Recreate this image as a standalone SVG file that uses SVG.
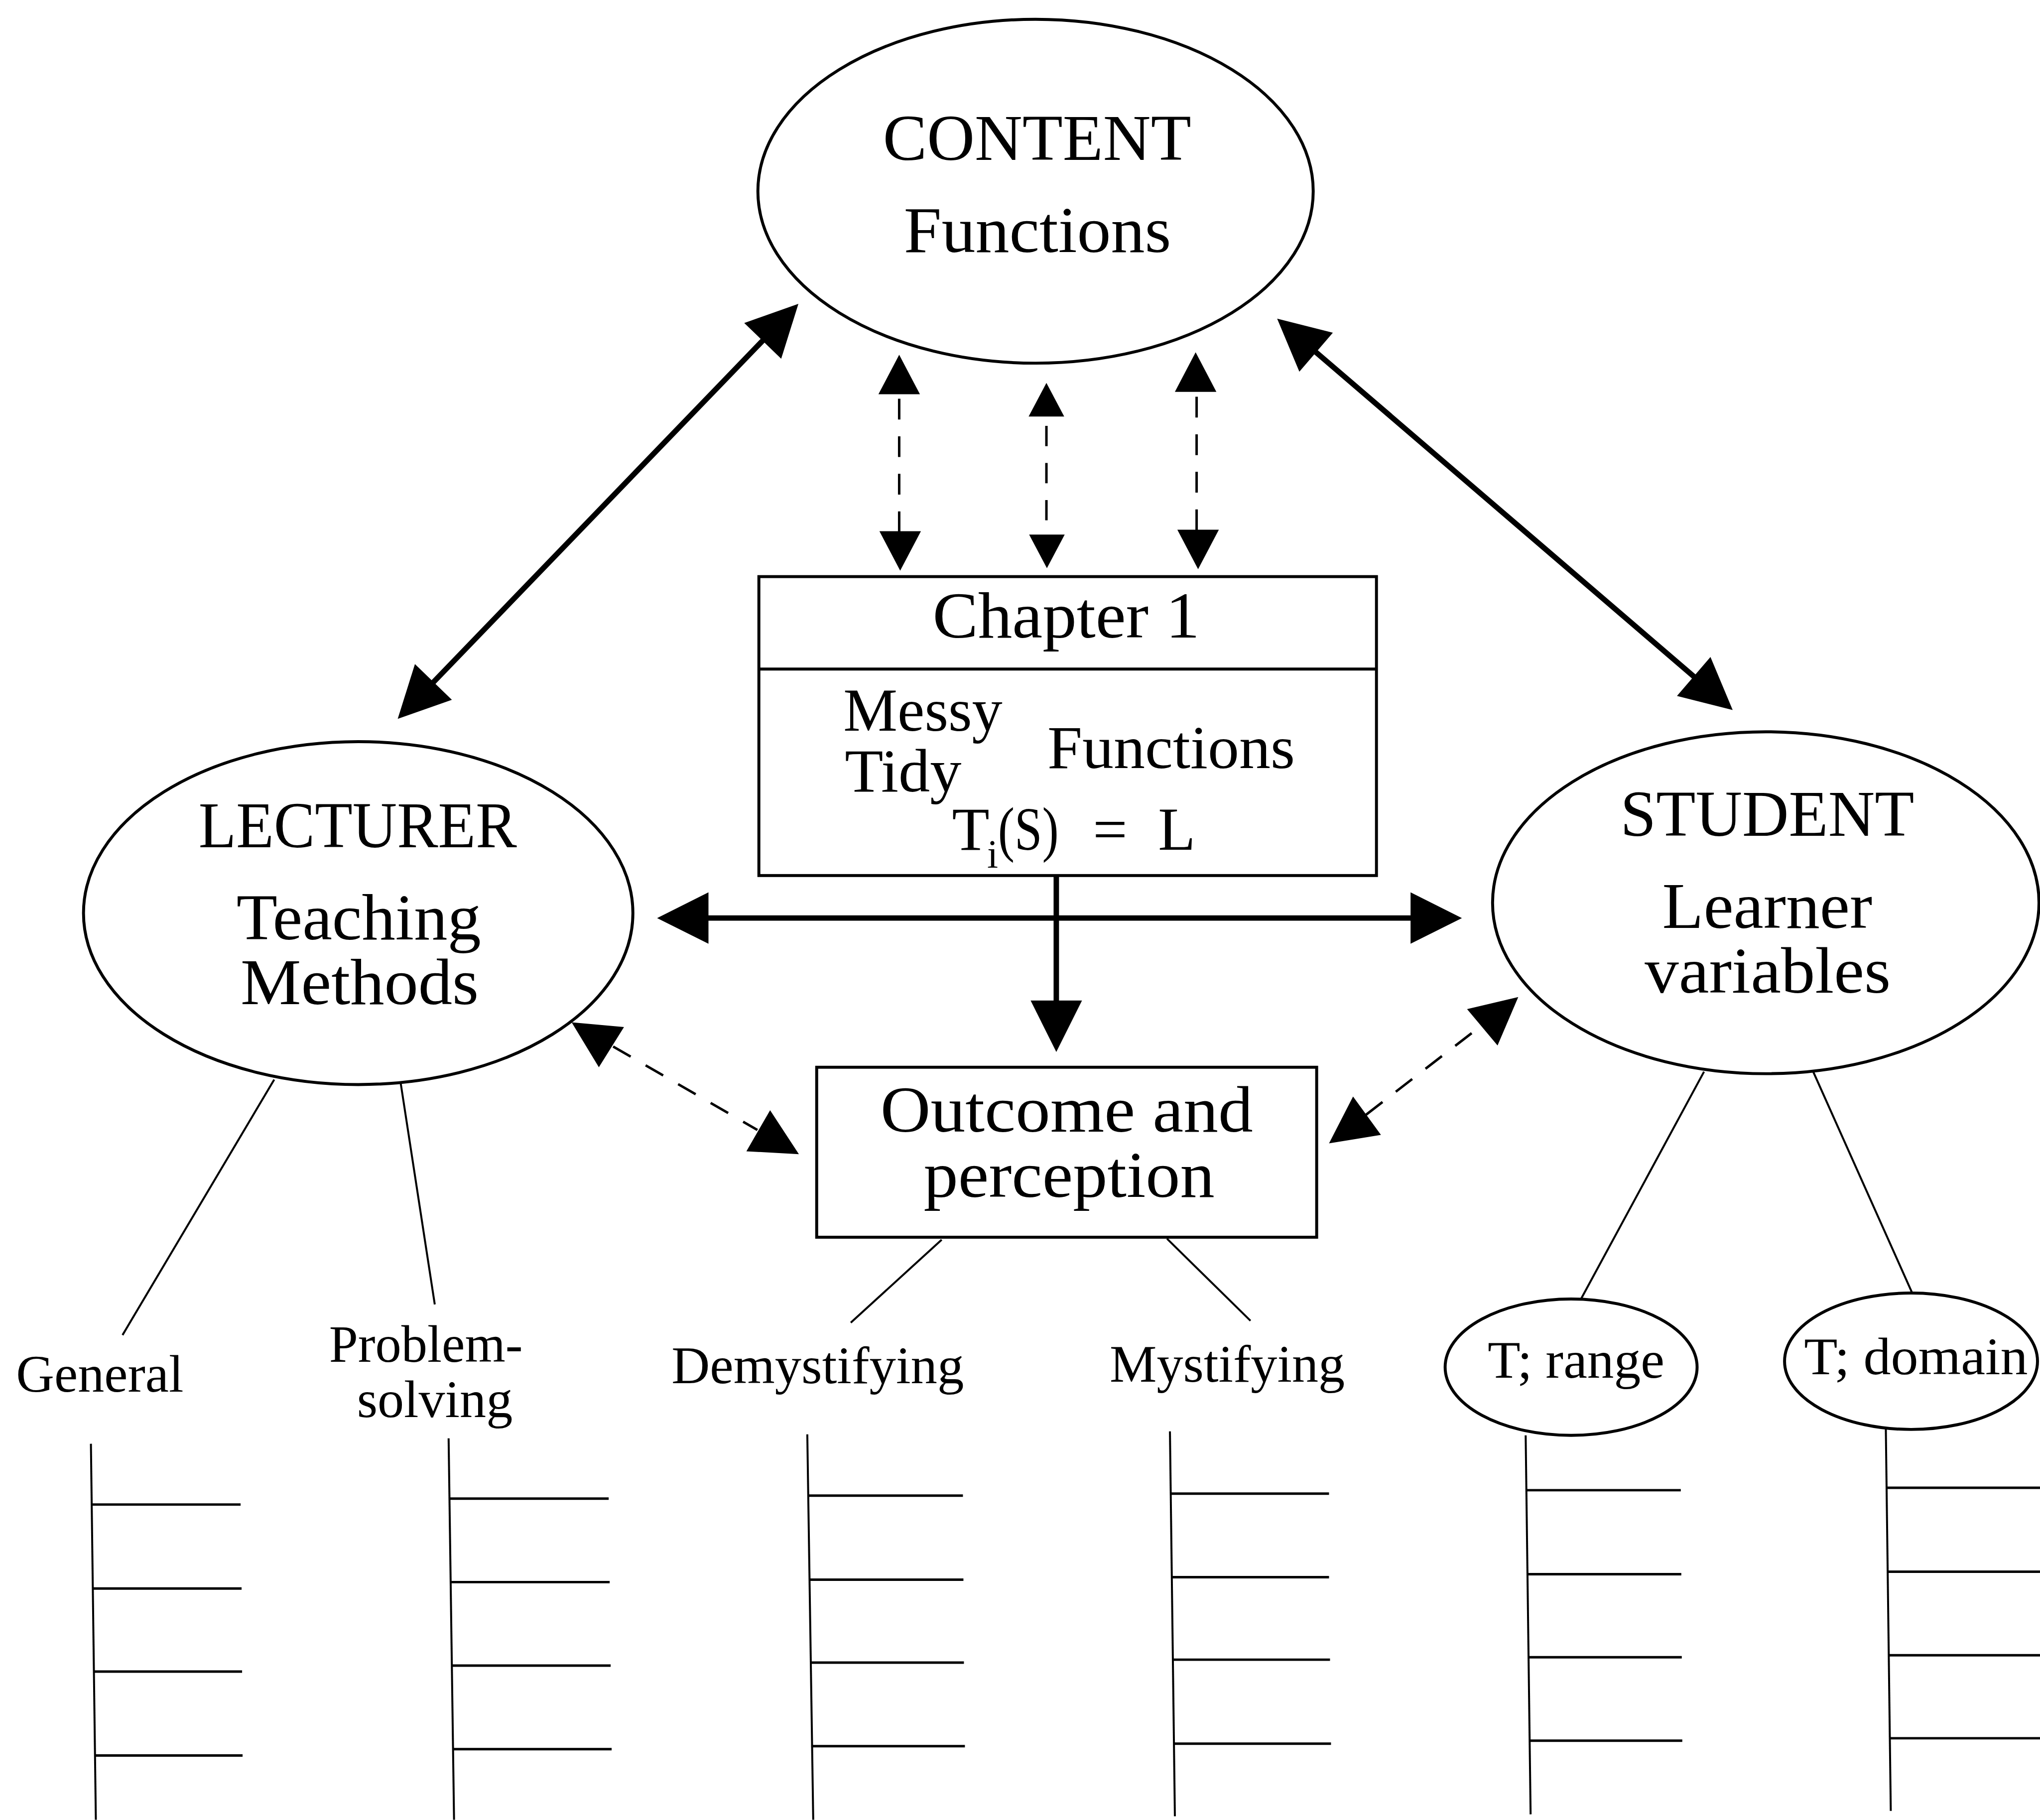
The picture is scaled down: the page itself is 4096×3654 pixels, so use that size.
<svg xmlns="http://www.w3.org/2000/svg" xmlns:xlink="http://www.w3.org/1999/xlink" width="4096" height="3654" viewBox="0 0 4096 3654">
  <style>
    .node { fill: #fff; stroke: #000; stroke-width: 6; }
    .solid { stroke: #000; stroke-width: 11; fill: none; }
    .dash { stroke: #000; stroke-width: 5; fill: none; }
    .thin { stroke: #000; stroke-width: 4; fill: none; }
    .rung { stroke: #000; stroke-width: 5; fill: none; }
    .head { fill: #000; stroke: none; }
    text { font-family: "Liberation Serif", "Times New Roman", serif; fill: #000; }
    .big { font-size: 132px; text-anchor: middle; }
    .mid { font-size: 124px; }
    .lab { font-size: 107px; text-anchor: middle; }
  </style>
  <defs>
    <!-- arrowheads: tip at origin, pointing along +x -->
    <path id="ah-big" class="head" d="M0,0 L-104,-52 L-104,52 Z"/>
    <path id="ah-dash" class="head" d="M0,0 L-95,-48 L-95,48 Z"/>
    <path id="ah-vert" class="head" d="M0,0 L-80,-42 L-80,42 Z"/>
    <path id="ah-vsm" class="head" d="M0,0 L-68,-36 L-68,36 Z"/>
  </defs>
  <rect width="4096" height="3654" fill="#fff"/>
  <g transform="scale(0.992)">

    <!-- connectors -->
    <g id="connectors">
      <!-- solid two-way links -->
      <path class="solid" d="M1574,658 L847,1412"/>
      <use xlink:href="#ah-big" transform="translate(1616,615) rotate(-46)"/>
      <use xlink:href="#ah-big" transform="translate(805,1455) rotate(134)"/>

      <path class="solid" d="M2630,684 L3462,1398"/>
      <use xlink:href="#ah-big" transform="translate(2585,645) rotate(-139.3)"/>
      <use xlink:href="#ah-big" transform="translate(3507,1437) rotate(40.7)"/>

      <path class="solid" d="M1390,1858 L2899,1858"/>
      <use xlink:href="#ah-big" transform="translate(1330,1858) rotate(180)"/>
      <use xlink:href="#ah-big" transform="translate(2959,1858)"/>

      <path class="solid" d="M2138,1772 L2138,2070"/>
      <use xlink:href="#ah-big" transform="translate(2138,2129) rotate(90)"/>

      <!-- dashed links between content and chapter box -->
      <path class="dash" stroke-dasharray="42 34" d="M1820,1077 L1820,797"/>
      <use xlink:href="#ah-vert" transform="translate(1820,718) rotate(-90)"/>
      <use xlink:href="#ah-vert" transform="translate(1822,1155) rotate(90)"/>

      <path class="dash" stroke-dasharray="41 34" d="M2118,862 L2118,1060"/>
      <use xlink:href="#ah-vsm" transform="translate(2118,775) rotate(-90)"/>
      <use xlink:href="#ah-vsm" transform="translate(2119,1150) rotate(90)"/>

      <path class="dash" stroke-dasharray="42 34" d="M2422,1073 L2422,793"/>
      <use xlink:href="#ah-vert" transform="translate(2420,713) rotate(-90)"/>
      <use xlink:href="#ah-vert" transform="translate(2425,1152) rotate(90)"/>

      <!-- dashed links to outcome -->
      <path class="dash" stroke-dasharray="41 35" d="M1241,2118 L1533,2287"/>
      <use xlink:href="#ah-dash" transform="translate(1157,2069) rotate(-148)"/>
      <use xlink:href="#ah-dash" transform="translate(1617,2336) rotate(30)"/>

      <path class="dash" stroke-dasharray="42 34" d="M2765,2256 L2998,2076"/>
      <use xlink:href="#ah-dash" transform="translate(3073,2018) rotate(-40)"/>
      <use xlink:href="#ah-dash" transform="translate(2690,2314) rotate(144)"/>

      <!-- branches -->
      <path class="thin" d="M555,2185 L248,2702"/>
      <path class="thin" d="M811,2192 L880,2640"/>
      <path class="thin" d="M1906,2509 L1722,2677"/>
      <path class="thin" d="M2362,2507 L2531,2673"/>
      <path class="thin" d="M3449,2169 L3200,2629"/>
      <path class="thin" d="M3670,2169 L3870,2616"/>
    </g>

    <!-- nodes -->
    <g id="content">
      <ellipse class="node" cx="2096" cy="387" rx="562" ry="348"/>
      <text class="big" x="2099" y="324" textLength="624" lengthAdjust="spacingAndGlyphs">CONTENT</text>
      <text class="big" x="2100" y="510" textLength="541" lengthAdjust="spacingAndGlyphs">Functions</text>
    </g>

    <g id="chapter1">
      <rect class="node" x="1536" y="1167" width="1250" height="605"/>
      <line class="node" x1="1536" y1="1354" x2="2786" y2="1354"/>
      <text class="big" x="2158" y="1290" font-size="134" textLength="541" lengthAdjust="spacingAndGlyphs">Chapter 1</text>
      <text class="mid" x="1707" y="1479" textLength="322" lengthAdjust="spacingAndGlyphs">Messy</text>
      <text class="mid" x="1710" y="1602" textLength="236" lengthAdjust="spacingAndGlyphs">Tidy</text>
      <text class="mid" x="2120" y="1554" font-size="127" textLength="501" lengthAdjust="spacingAndGlyphs">Functions</text>
      <text class="mid" x="1927" y="1720">T</text>
      <text x="1998" y="1756" font-size="80">i</text>
      <text class="mid" x="2020" y="1720" textLength="123" lengthAdjust="spacingAndGlyphs">(S)</text>
      <text class="mid" x="2212" y="1720">=</text>
      <text class="mid" x="2344" y="1720">L</text>
    </g>

    <g id="lecturer">
      <ellipse class="node" cx="725" cy="1848" rx="556" ry="347"/>
      <text class="big" x="724" y="1715" textLength="644" lengthAdjust="spacingAndGlyphs">LECTURER</text>
      <text class="big" x="726" y="1901" textLength="495" lengthAdjust="spacingAndGlyphs">Teaching</text>
      <text class="big" x="728" y="2032" textLength="482" lengthAdjust="spacingAndGlyphs">Methods</text>
    </g>

    <g id="student">
      <ellipse class="node" cx="3574" cy="1827" rx="553" ry="346"/>
      <text class="big" x="3577" y="1692" textLength="595" lengthAdjust="spacingAndGlyphs">STUDENT</text>
      <text class="big" x="3577" y="1878" textLength="425" lengthAdjust="spacingAndGlyphs">Learner</text>
      <text class="big" x="3578" y="2009" textLength="498" lengthAdjust="spacingAndGlyphs">variables</text>
    </g>

    <g id="outcome">
      <rect class="node" x="1653" y="2160" width="1012" height="344"/>
      <text class="big" x="2159" y="2290" font-size="138" textLength="754" lengthAdjust="spacingAndGlyphs">Outcome and</text>
      <text class="big" x="2164" y="2422" font-size="138" textLength="589" lengthAdjust="spacingAndGlyphs">perception</text>
    </g>

    <g id="general">
      <text class="lab" x="202" y="2817" textLength="339" lengthAdjust="spacingAndGlyphs">General</text>
    </g>
    <g id="problem-solving">
      <text class="lab" x="862" y="2756" textLength="392" lengthAdjust="spacingAndGlyphs">Problem-</text>
      <text class="lab" x="880" y="2868" textLength="315" lengthAdjust="spacingAndGlyphs">solving</text>
    </g>
    <g id="demystifying">
      <text class="lab" x="1655" y="2799" textLength="592" lengthAdjust="spacingAndGlyphs">Demystifying</text>
    </g>
    <g id="mystifying">
      <text class="lab" x="2484" y="2796" textLength="476" lengthAdjust="spacingAndGlyphs">Mystifying</text>
    </g>
    <g id="t-range">
      <ellipse class="node" cx="3180" cy="2767" rx="255" ry="138"/>
      <text class="lab" x="3190" y="2788" textLength="358" lengthAdjust="spacingAndGlyphs">T; range</text>
    </g>
    <g id="t-domain">
      <ellipse class="node" cx="3868" cy="2755" rx="256" ry="138"/>
      <text class="lab" x="3878" y="2781" textLength="453" lengthAdjust="spacingAndGlyphs">T; domain</text>
    </g>

    <!-- ruled lists below each category -->
    <g id="ladders">
      <g id="ladder-general">
        <path class="thin" d="M184,2922 L194,3683"/>
        <path class="rung" d="M186,3045 H487 M188,3215 H489 M190,3383 H490 M192,3553 H491"/>
      </g>
      <g id="ladder-problem">
        <path class="thin" d="M908,2911 L919,3683"/>
        <path class="rung" d="M910,3033 H1232 M912,3202 H1234 M914,3371 H1236 M916,3540 H1238"/>
      </g>
      <g id="ladder-demystifying">
        <path class="thin" d="M1634,2903 L1646,3683"/>
        <path class="rung" d="M1636,3027 H1949 M1638,3197 H1950 M1640,3365 H1951 M1642,3534 H1953"/>
      </g>
      <g id="ladder-mystifying">
        <path class="thin" d="M2368,2897 L2378,3676"/>
        <path class="rung" d="M2370,3023 H2690 M2372,3192 H2690 M2374,3359 H2692 M2376,3529 H2694"/>
      </g>
      <g id="ladder-range">
        <path class="thin" d="M3088,2905 L3098,3672"/>
        <path class="rung" d="M3090,3016 H3402 M3092,3186 H3403 M3094,3354 H3404 M3096,3523 H3405"/>
      </g>
      <g id="ladder-domain">
        <path class="thin" d="M3817,2893 L3827,3665"/>
        <path class="rung" d="M3819,3011 H4129 M3821,3181 H4129 M3823,3350 H4129 M3825,3518 H4129"/>
      </g>
    </g>
  </g>
</svg>
